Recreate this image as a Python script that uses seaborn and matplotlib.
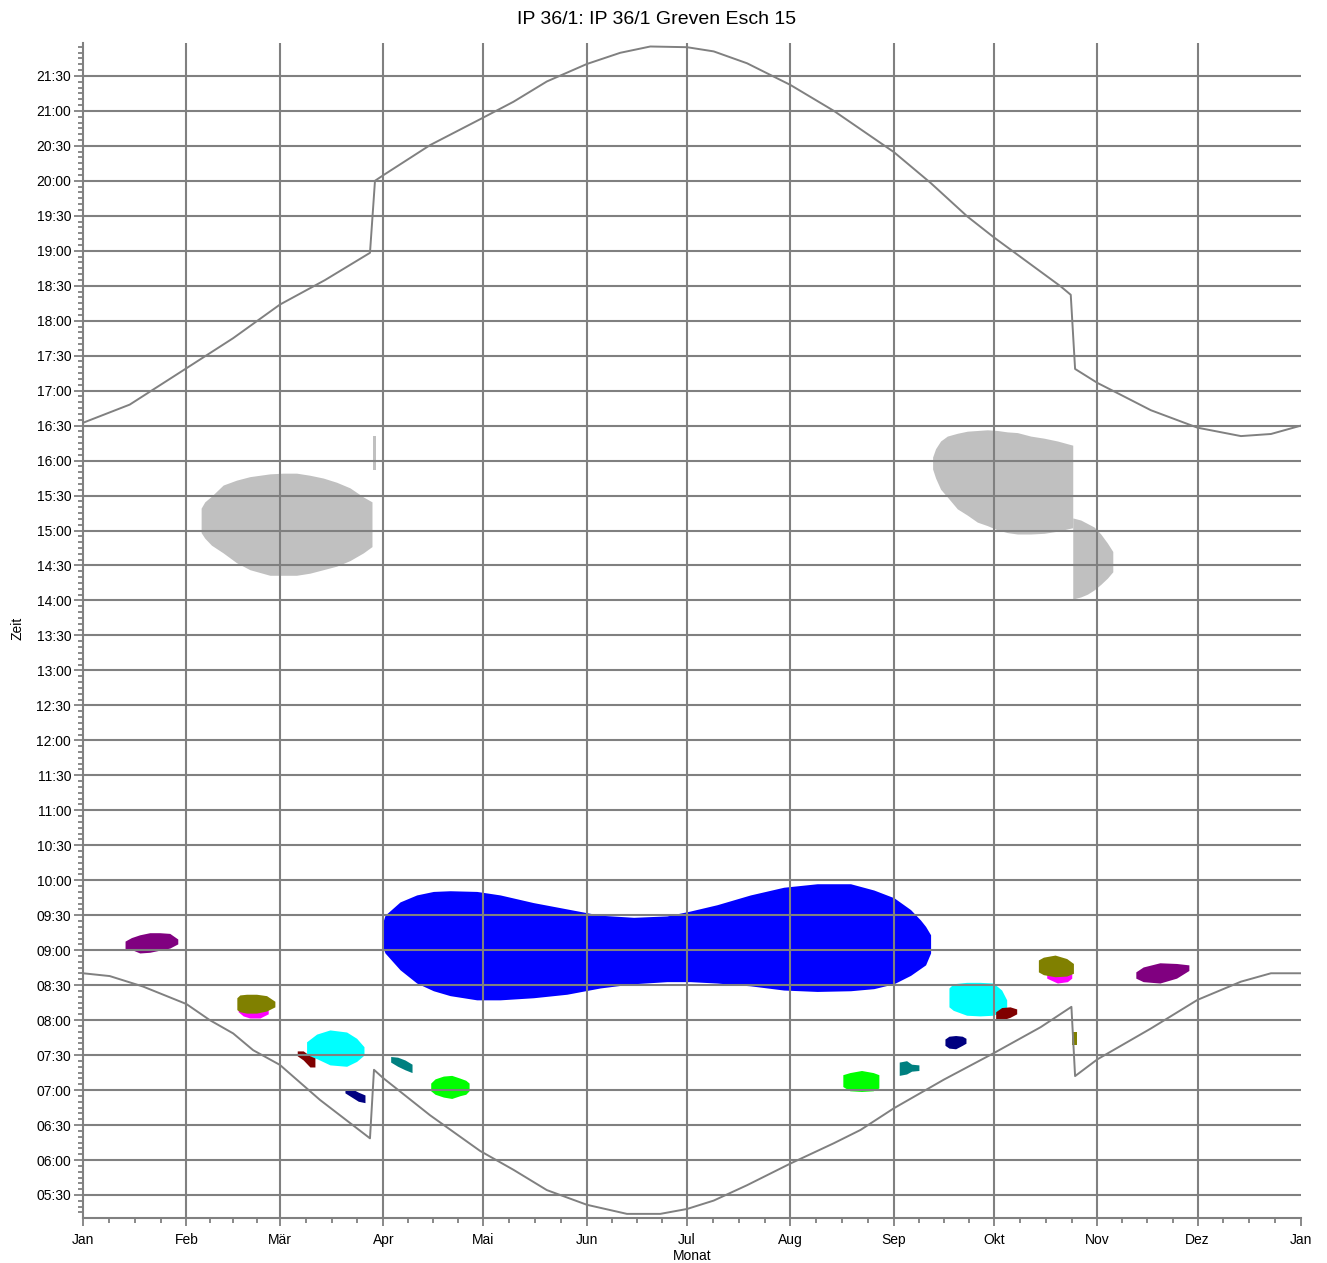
import numpy as np
import pandas as pd
import matplotlib
matplotlib.use("Agg")
import matplotlib.pyplot as plt
from matplotlib.ticker import FixedLocator
import seaborn as sns

# ---------------- data ----------------
title = "IP 36/1: IP 36/1 Greven Esch 15"
x_label = "Monat"
y_label = "Zeit"
month_labels = ["Jan", "Feb", "Mär", "Apr", "Mai", "Jun", "Jul", "Aug", "Sep", "Okt", "Nov", "Dez", "Jan"]
month_starts = [0, 31, 59, 90, 120, 151, 181, 212, 243, 273, 304, 334, 365]

sunset_day = [0, 14, 31, 45, 59, 72.5, 86, 87.5, 90, 104, 119, 129, 139, 151, 161, 170, 181, 189,
              199, 212, 225, 243, 254, 265, 273, 279, 293, 296, 297.3, 304, 311, 320, 334, 347, 356, 365]
sunset_h = [16.54, 16.80, 17.32, 17.75, 18.23, 18.58, 18.97, 20.00, 20.08, 20.51, 20.88, 21.13,
            21.42, 21.67, 21.83, 21.92, 21.91, 21.85, 21.68, 21.37, 21.00, 20.41, 19.97, 19.49,
            19.19, 18.98, 18.49, 18.37, 17.31, 17.11, 16.94, 16.72, 16.47, 16.35, 16.38, 16.50]

sunrise_day = [0, 8, 18, 31, 38, 45, 51, 59, 71, 86, 87.2, 90, 104, 119, 129, 139, 151, 163, 173,
               181, 189, 199, 212, 225, 233, 243, 258, 273, 287, 296.2, 297.3, 304, 320, 334, 347, 356, 365]
sunrise_h = [8.67, 8.63, 8.48, 8.23, 8.00, 7.81, 7.57, 7.36, 6.86, 6.31, 7.29, 7.17, 6.64, 6.13,
             5.86, 5.57, 5.36, 5.23, 5.23, 5.30, 5.42, 5.64, 5.95, 6.24, 6.43, 6.74, 7.15, 7.53,
             7.90, 8.19, 7.20, 7.44, 7.88, 8.29, 8.55, 8.67, 8.67]

# shadow areas: day of year, earliest / latest time (hours)
grayA_day = [35.4, 36.5, 38.5, 42, 46, 50, 56, 60, 64, 68, 72, 76, 80, 84, 86.6]
grayA_hi = [15.32, 15.41, 15.49, 15.65, 15.72, 15.77, 15.81, 15.82, 15.82, 15.79, 15.75, 15.69, 15.61, 15.48, 15.41]
grayA_lo = [14.97, 14.89, 14.79, 14.68, 14.54, 14.44, 14.36, 14.36, 14.36, 14.39, 14.44, 14.49, 14.57, 14.68, 14.77]

grayB_day = [86.9, 87.7]
grayB_hi = [16.35, 16.35]
grayB_lo = [15.87, 15.87]

grayC_day = [254.6, 255.5, 257, 259, 262, 265, 268, 271, 274, 277, 280, 284, 288, 292, 296.6]
grayC_hi = [16.05, 16.17, 16.28, 16.35, 16.39, 16.42, 16.43, 16.44, 16.43, 16.41, 16.40, 16.35, 16.32, 16.28, 16.22]
grayC_lo = [15.88, 15.75, 15.59, 15.48, 15.31, 15.22, 15.12, 15.07, 15.01, 14.97, 14.95, 14.95, 14.96, 14.99, 15.04]

grayD_day = [296.6, 299, 301, 303, 305, 307, 308.6]
grayD_hi = [15.18, 15.15, 15.10, 15.05, 14.95, 14.82, 14.70]
grayD_lo = [14.02, 14.05, 14.09, 14.15, 14.23, 14.32, 14.41]

blue_day = [89.6, 90.5, 95, 100, 105, 110, 118, 125, 135, 145, 155, 165, 175, 182, 190, 200,
            210, 220, 230, 237, 243, 248, 251, 252.5, 254.0]
blue_hi = [9.36, 9.50, 9.69, 9.79, 9.84, 9.85, 9.84, 9.79, 9.68, 9.59, 9.50, 9.47, 9.49, 9.56,
           9.65, 9.79, 9.90, 9.95, 9.95, 9.86, 9.75, 9.58, 9.43, 9.34, 9.22]
blue_lo = [9.07, 8.96, 8.72, 8.53, 8.42, 8.35, 8.29, 8.29, 8.32, 8.37, 8.46, 8.52, 8.55, 8.55,
           8.53, 8.49, 8.43, 8.41, 8.42, 8.45, 8.52, 8.64, 8.74, 8.79, 8.96]

purple1_day = [12.6, 14.5, 17, 20, 23, 26, 28.4]
purple1_hi = [9.13, 9.18, 9.22, 9.25, 9.25, 9.24, 9.16]
purple1_lo = [9.02, 9.01, 8.96, 8.97, 9.00, 9.03, 9.09]

magenta1_day = [46.5, 48, 50, 53, 55.5]
magenta1_hi = [8.16, 8.13, 8.12, 8.12, 8.15]
magenta1_lo = [8.12, 8.06, 8.03, 8.03, 8.09]

olive1_day = [46.1, 47, 49, 52, 55, 57.5]
olive1_hi = [8.32, 8.36, 8.37, 8.37, 8.35, 8.27]
olive1_lo = [8.15, 8.12, 8.10, 8.10, 8.13, 8.19]

cyan1_day = [67.0, 70.0, 74.0, 79.0, 82.0, 84.2]
cyan1_hi = [7.69, 7.80, 7.86, 7.83, 7.74, 7.62]
cyan1_lo = [7.50, 7.45, 7.36, 7.34, 7.41, 7.50]

maroon1_day = [64.2, 66, 68, 69.5]
maroon1_hi = [7.56, 7.56, 7.49, 7.46]
maroon1_lo = [7.49, 7.43, 7.33, 7.33]

navy1_day = [78.5, 80.5, 82.5, 84.5]
navy1_hi = [7.02, 7.02, 6.97, 6.93]
navy1_lo = [6.96, 6.90, 6.84, 6.82]

teal1_day = [92.2, 94.3, 96.5, 98.6]
teal1_hi = [7.48, 7.47, 7.43, 7.37]
teal1_lo = [7.40, 7.34, 7.29, 7.25]

green1_day = [104.2, 105.5, 108, 110.5, 113, 114.7, 115.7]
green1_hi = [7.10, 7.16, 7.20, 7.21, 7.17, 7.14, 7.10]
green1_lo = [6.99, 6.94, 6.90, 6.88, 6.92, 6.94, 6.99]

green2_day = [227.7, 229.8, 233.3, 236.8, 238.5]
green2_hi = [7.22, 7.25, 7.28, 7.25, 7.22]
green2_lo = [7.05, 6.99, 6.98, 6.99, 7.03]

teal2_day = [244.6, 246.8, 248.3, 250.5]
teal2_hi = [7.40, 7.42, 7.37, 7.36]
teal2_lo = [7.21, 7.23, 7.27, 7.28]

navy2_day = [258.3, 259.5, 261.5, 263.5, 264.6]
navy2_hi = [7.73, 7.77, 7.78, 7.77, 7.74]
navy2_lo = [7.64, 7.60, 7.59, 7.64, 7.67]

cyan2_day = [259.5, 260.8, 264.8, 268.8, 272.8, 275.3, 276.8]
cyan2_hi = [8.46, 8.52, 8.54, 8.54, 8.53, 8.43, 8.29]
cyan2_lo = [8.19, 8.14, 8.07, 8.06, 8.07, 8.12, 8.19]

maroon2_day = [273.5, 275.3, 277.8, 279.8]
maroon2_hi = [8.12, 8.18, 8.19, 8.16]
maroon2_lo = [8.01, 8.00, 8.04, 8.09]

magenta2_day = [288.8, 292, 295, 296.3]
magenta2_hi = [8.66, 8.65, 8.65, 8.67]
magenta2_lo = [8.60, 8.53, 8.55, 8.60]

olive2_day = [286.3, 287.8, 291.3, 294.8, 296.8]
olive2_hi = [8.86, 8.90, 8.93, 8.88, 8.81]
olive2_lo = [8.69, 8.65, 8.62, 8.63, 8.67]

olive3_day = [296.5, 297.8]
olive3_hi = [7.83, 7.83]
olive3_lo = [7.64, 7.64]

purple2_day = [315.5, 317.7, 322.7, 327.7, 331.4]
purple2_hi = [8.69, 8.76, 8.82, 8.81, 8.79]
purple2_lo = [8.60, 8.55, 8.53, 8.60, 8.71]

areas = [
    (grayA_day, grayA_lo, grayA_hi, "#C0C0C0"),
    (grayB_day, grayB_lo, grayB_hi, "#C0C0C0"),
    (grayC_day, grayC_lo, grayC_hi, "#C0C0C0"),
    (grayD_day, grayD_lo, grayD_hi, "#C0C0C0"),
    (blue_day, blue_lo, blue_hi, "#0000FF"),
    (purple1_day, purple1_lo, purple1_hi, "#800080"),
    (magenta1_day, magenta1_lo, magenta1_hi, "#FF00FF"),
    (olive1_day, olive1_lo, olive1_hi, "#808000"),
    (cyan1_day, cyan1_lo, cyan1_hi, "#00FFFF"),
    (maroon1_day, maroon1_lo, maroon1_hi, "#800000"),
    (navy1_day, navy1_lo, navy1_hi, "#000080"),
    (teal1_day, teal1_lo, teal1_hi, "#008080"),
    (green1_day, green1_lo, green1_hi, "#00FF00"),
    (green2_day, green2_lo, green2_hi, "#00FF00"),
    (teal2_day, teal2_lo, teal2_hi, "#008080"),
    (navy2_day, navy2_lo, navy2_hi, "#000080"),
    (cyan2_day, cyan2_lo, cyan2_hi, "#00FFFF"),
    (maroon2_day, maroon2_lo, maroon2_hi, "#800000"),
    (magenta2_day, magenta2_lo, magenta2_hi, "#FF00FF"),
    (olive2_day, olive2_lo, olive2_hi, "#808000"),
    (olive3_day, olive3_lo, olive3_hi, "#808000"),
    (purple2_day, purple2_lo, purple2_hi, "#800080"),
]

# ---------------- style ----------------
sns.set_theme(style="white")
plt.rcParams["font.family"] = ["Liberation Sans", "DejaVu Sans"]
plt.rcParams["text.color"] = "black"
GRID = "#808080"

W, H = 1327, 1263
fig = plt.figure(figsize=(W / 100, H / 100), dpi=100)
ax_left, ax_right, ax_top, ax_bottom = 83, 1301, 43, 1218
ax = fig.add_axes([ax_left / W, 1 - ax_bottom / H, (ax_right - ax_left) / W, (ax_bottom - ax_top) / H])
ax.set_facecolor("white")

# shadow areas
for d, lo, hi, c in areas:
    ax.fill_between(d, lo, hi, color=c, lw=0, zorder=1)

# grid
half_hours = np.arange(5.5, 21.51, 0.5)
for h in half_hours:
    ax.axhline(h, color=GRID, lw=1.5, zorder=2)
for m in month_starts[1:-1]:
    ax.axvline(m, color=GRID, lw=1.5, zorder=2)

# sunrise / sunset lines
df_set = pd.DataFrame({"day": sunset_day, "h": sunset_h})
df_rise = pd.DataFrame({"day": sunrise_day, "h": sunrise_h})
sns.lineplot(data=df_set, x="day", y="h", estimator=None, sort=False, color=GRID, lw=1.4, ax=ax, zorder=3)
sns.lineplot(data=df_rise, x="day", y="h", estimator=None, sort=False, color=GRID, lw=1.4, ax=ax, zorder=3)

ax.set_xlim(0, 365)
ax.set_ylim(5.171, 21.97)

# ticks
ax.set_yticks(half_hours)
ax.set_yticklabels([f"{int(h):02d}:{int(round((h % 1) * 60)):02d}" for h in half_hours])
ax.yaxis.set_minor_locator(FixedLocator(np.arange(5 + 10 / 60, 21.97, 5 / 60)))
ax.set_xticks(month_starts)
ax.set_xticklabels(month_labels)
minor_x = []
for s, e in zip(month_starts[:-1], month_starts[1:]):
    L = e - s
    minor_x += [s + L / 4, s + L / 2, s + 3 * L / 4]
ax.xaxis.set_minor_locator(FixedLocator(minor_x))

ax.tick_params(axis="y", which="major", length=6.5, width=1.3, color=GRID, pad=2, labelsize=10, labelcolor="black", left=True)
ax.tick_params(axis="y", which="minor", length=3.6, width=1.3, color=GRID, left=True)
ax.tick_params(axis="x", which="major", length=6, width=1.3, color=GRID, pad=5, labelsize=10, labelcolor="black", bottom=True)
ax.tick_params(axis="x", which="minor", length=3.6, width=1.3, color=GRID, bottom=True)

for side in ["top", "right"]:
    ax.spines[side].set_visible(False)
for side in ["left", "bottom"]:
    ax.spines[side].set_color(GRID)
    ax.spines[side].set_linewidth(1.5)
    ax.spines[side].set_zorder(4)

ax.set_xlabel("")
ax.set_ylabel("")
fig.text(692 / W, 1 - 1256 / H, x_label, ha="center", va="center", fontsize=10, color="black")
fig.text(17 / W, 1 - 628 / H, y_label, ha="center", va="center", fontsize=10, rotation=90, color="black")
fig.text(657 / W, 1 - 19 / H, title, ha="center", va="center", fontsize=14, color="black")

fig.savefig("out.png", dpi=100, facecolor="white")
